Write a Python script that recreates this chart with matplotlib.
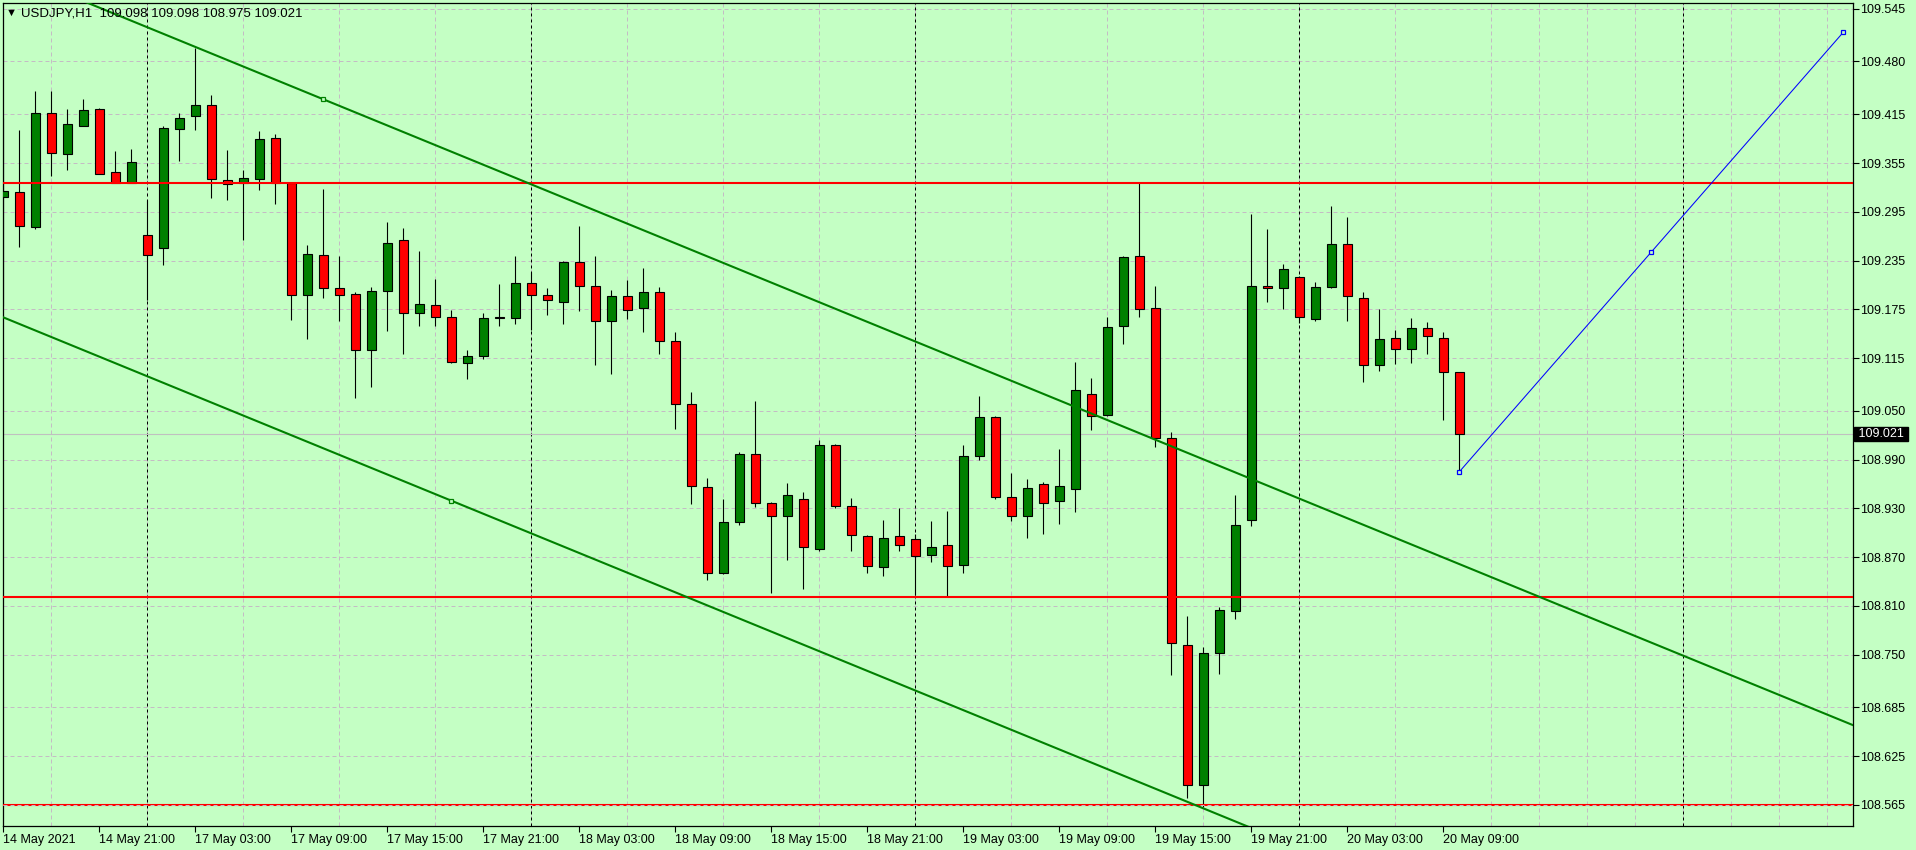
import matplotlib
matplotlib.use('Agg')
import matplotlib.pyplot as plt
import matplotlib.transforms as mtransforms
import numpy as np
import pandas as pd

# USDJPY H1 bars, 14 May 2021 15:00 .. 20 May 2021 10:00
symbol = 'USDJPY,H1'
bar_open = [109.313, 109.319, 109.276, 109.417, 109.366, 109.401, 109.422, 109.344, 109.331, 109.266,
            109.250, 109.397, 109.413, 109.426, 109.334, 109.330, 109.335, 109.386, 109.330, 109.192,
            109.242, 109.201, 109.194, 109.125, 109.197, 109.260, 109.171, 109.180, 109.166, 109.109,
            109.117, 109.166, 109.164, 109.207, 109.192, 109.184, 109.233, 109.204, 109.160, 109.191,
            109.177, 109.196, 109.136, 109.058, 108.956, 108.850, 108.913, 108.997, 108.937, 108.921,
            108.942, 108.880, 109.008, 108.933, 108.896, 108.858, 108.896, 108.892, 108.873, 108.885,
            108.860, 108.994, 109.043, 108.944, 108.921, 108.960, 108.939, 108.954, 109.071, 109.045,
            109.155, 109.240, 109.176, 109.017, 108.762, 108.590, 108.752, 108.804, 108.916, 109.204,
            109.201, 109.215, 109.163, 109.202, 109.255, 109.189, 109.106, 109.140, 109.126, 109.152,
            109.140, 109.098]
bar_high = [109.410, 109.396, 109.444, 109.444, 109.422, 109.434, 109.423, 109.370, 109.372, 109.310,
            109.401, 109.416, 109.497, 109.439, 109.371, 109.347, 109.395, 109.391, 109.331, 109.254,
            109.323, 109.241, 109.196, 109.202, 109.282, 109.275, 109.247, 109.212, 109.174, 109.125,
            109.171, 109.206, 109.241, 109.221, 109.201, 109.235, 109.278, 109.241, 109.199, 109.211,
            109.226, 109.202, 109.147, 109.073, 108.968, 108.941, 108.999, 109.062, 108.938, 108.961,
            108.950, 109.014, 109.009, 108.943, 108.897, 108.916, 108.930, 108.898, 108.914, 108.927,
            109.008, 109.068, 109.044, 108.974, 108.966, 108.963, 109.003, 109.110, 109.091, 109.165,
            109.241, 109.331, 109.204, 109.024, 108.798, 108.760, 108.809, 108.946, 109.292, 109.274,
            109.231, 109.216, 109.208, 109.302, 109.288, 109.196, 109.175, 109.149, 109.164, 109.159,
            109.147, 109.098]
bar_low = [109.179, 109.252, 109.274, 109.339, 109.346, 109.400, 109.341, 109.330, 109.330, 109.186,
           109.230, 109.358, 109.396, 109.312, 109.309, 109.260, 109.322, 109.304, 109.162, 109.139,
           109.189, 109.160, 109.066, 109.080, 109.148, 109.120, 109.154, 109.154, 109.109, 109.089,
           109.114, 109.154, 109.157, 109.150, 109.168, 109.157, 109.173, 109.106, 109.096, 109.163,
           109.147, 109.120, 109.028, 108.935, 108.842, 108.849, 108.910, 108.932, 108.826, 108.867,
           108.831, 108.878, 108.931, 108.878, 108.851, 108.847, 108.878, 108.823, 108.864, 108.821,
           108.851, 108.990, 108.942, 108.914, 108.894, 108.899, 108.911, 108.926, 109.026, 109.044,
           109.132, 109.166, 109.005, 108.725, 108.574, 108.562, 108.726, 108.794, 108.908, 109.184,
           109.175, 109.158, 109.160, 109.201, 109.160, 109.085, 109.099, 109.108, 109.109, 109.120,
           109.039, 108.975]
bar_close = [109.320, 109.277, 109.416, 109.367, 109.403, 109.420, 109.342, 109.331, 109.356, 109.242,
             109.398, 109.411, 109.426, 109.335, 109.329, 109.336, 109.384, 109.330, 109.192, 109.243,
             109.201, 109.192, 109.125, 109.197, 109.256, 109.170, 109.181, 109.165, 109.110, 109.118,
             109.164, 109.164, 109.207, 109.192, 109.186, 109.233, 109.204, 109.160, 109.191, 109.174,
             109.196, 109.136, 109.059, 108.957, 108.850, 108.913, 108.997, 108.937, 108.921, 108.946,
             108.883, 109.008, 108.933, 108.897, 108.859, 108.894, 108.885, 108.872, 108.883, 108.859,
             108.995, 109.042, 108.944, 108.921, 108.955, 108.937, 108.958, 109.076, 109.044, 109.153,
             109.239, 109.175, 109.017, 108.764, 108.590, 108.752, 108.805, 108.910, 109.204, 109.201,
             109.224, 109.165, 109.203, 109.255, 109.191, 109.107, 109.139, 109.126, 109.152, 109.142,
             109.098, 109.021]

# time axis: Friday bars, then Monday onwards (plus empty future bars on the right)
friday_bars = pd.date_range('2021-05-14 15:00', periods=9, freq='h')
week_bars = pd.date_range('2021-05-17 00:00', periods=107, freq='h')
bar_times = list(friday_bars) + list(week_bars)

price_ticks = [109.545, 109.480, 109.415, 109.355, 109.295, 109.235, 109.175, 109.115, 109.050,
               108.990, 108.930, 108.870, 108.810, 108.750, 108.685, 108.625, 108.565]

# drawn objects
levels = [109.331, 108.821, 108.565]
channel_bars = [20, 57]
channel_prices = [109.4335, 109.1354]
channel_low_bar = 28
channel_low_price = 108.9395
trend_bars = [91, 115]
trend_prices = [108.975, 109.516]

bg = '#c4ffc4'
bull = '#008000'
bear = '#ff0000'
grid_col = '#c4bcc4'

plt.rcParams['font.family'] = ['Liberation Sans', 'DejaVu Sans']
plt.rcParams['font.size'] = 9

fig = plt.figure(figsize=(19.16, 8.5), dpi=100, facecolor=bg)
ax = fig.add_axes([2.5 / 1916, 24 / 850, 1850 / 1916, 823.5 / 850])
ax.set_facecolor(bg)
ax.set_xlim(-0.05, 115.575)
ax.set_ylim(108.5391, 109.5526)

n = len(bar_close)
x = np.arange(n)
o = np.array(bar_open)
h = np.array(bar_high)
l = np.array(bar_low)
c = np.array(bar_close)

# grid
ax.set_xticks(np.arange(0, 116, 3), minor=True)
ax.set_yticks(price_ticks)
ax.set_yticklabels([f'{p:.3f}' for p in price_ticks])
ax.grid(which='minor', axis='x', color=grid_col, lw=0.72, ls=(0, (4, 3)))
ax.grid(which='major', axis='y', color=grid_col, lw=0.72, ls=(0, (4, 3)))
ax.set_axisbelow(True)

# day separators
for i, t in enumerate(bar_times):
    if i > 0 and t.hour == 0:
        ax.axvline(i, color='black', lw=0.72, ls=(0, (3, 3)), zorder=1)

# bid line
ax.axhline(c[-1], color='#c0c0c0', lw=0.8, zorder=1.5)

# candles
ax.vlines(x, l, h, color='black', lw=0.8, zorder=2)
up = c >= o
body = np.where(np.abs(c - o) < 0.0005, 0.0005, np.abs(c - o))
ax.bar(x, body, bottom=np.minimum(o, c), width=0.58,
       color=np.where(up, bull, bear), edgecolor='black', lw=0.8, zorder=3)

# horizontal levels
for lv in levels:
    ax.axhline(lv, color='#ff0000', lw=1.5, zorder=4)
ax.axhline(levels[-1], color=grid_col, lw=0.72, ls=(0, (4, 3)), zorder=4.5)

# equidistant channel
xs = np.array(ax.get_xlim())
slope = (channel_prices[1] - channel_prices[0]) / (channel_bars[1] - channel_bars[0])
ax.plot(xs, channel_prices[0] + slope * (xs - channel_bars[0]), color=bull, lw=1.5, zorder=5)
ax.plot(xs, channel_low_price + slope * (xs - channel_low_bar), color=bull, lw=1.5, zorder=5)
ax.plot([channel_bars[0], channel_low_bar], [channel_prices[0], channel_low_price], ls='none',
        marker='s', ms=3.4, mfc=bg, mec=bull, mew=0.9, zorder=6)

# blue trend line with its handles
ax.plot(trend_bars, trend_prices, color='#0000ff', lw=0.75, zorder=5)
ax.plot(trend_bars + [np.mean(trend_bars)], trend_prices + [np.mean(trend_prices)], ls='none',
        marker='s', ms=3.4, mfc=bg, mec='#0000ff', mew=0.9, zorder=6)

# axes styling
ax.yaxis.tick_right()
label_idx = list(range(0, n, 6))
labels = []
for i in label_idx:
    t = bar_times[i]
    labels.append(f"{t.day} {t.strftime('%b %Y')}" if i == 0 else f"{t.day} {t.strftime('%b %H:%M')}")
ax.set_xticks(label_idx)
ax.set_xticklabels(labels)
for lbl in ax.get_xticklabels():
    lbl.set_horizontalalignment('left')
ax.tick_params(axis='both', which='major', direction='out', length=4, width=0.8,
               colors='black', labelsize=9, pad=1.5)
ax.tick_params(axis='x', which='minor', length=0)
for sp in ax.spines.values():
    sp.set_color('black')
    sp.set_linewidth(0.9)

# current price box
tr = mtransforms.blended_transform_factory(fig.transFigure, ax.transData)
ax.text(1855 / 1916, c[-1], f' {c[-1]:.3f} ', transform=tr, ha='left', va='center',
        color='white', fontsize=9, zorder=10,
        bbox=dict(boxstyle='square,pad=0.08', facecolor='black', edgecolor='black'))

# header
fig.text(11.5 / 1916, 1 - 12.5 / 850, '\u25bc', ha='center', va='center', fontsize=8, color='black')
fig.text(21 / 1916, 1 - 13 / 850,
         f'{symbol}  {o[-1]:.3f} {h[-1]:.3f} {l[-1]:.3f} {c[-1]:.3f}',
         ha='left', va='center', fontsize=9.5, color='black')

fig.savefig('out.png', dpi=100, facecolor=bg)
